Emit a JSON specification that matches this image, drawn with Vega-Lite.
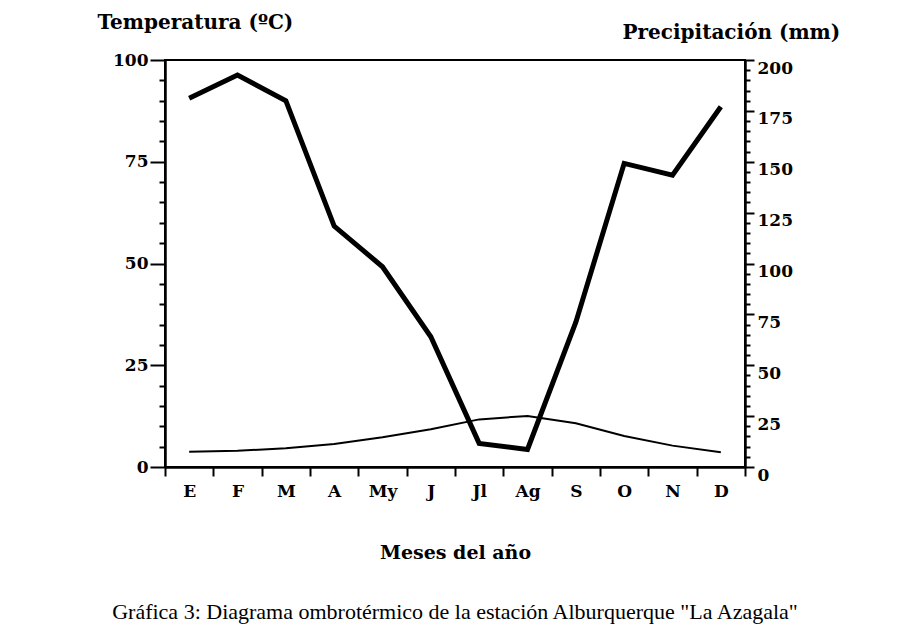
{
  "$schema": "https://vega.github.io/schema/vega-lite/v6.json",
  "width": 580,
  "height": 407,
  "autosize": {"type": "none"},
  "padding": {"left": 165, "top": 60, "right": 155, "bottom": 165},
  "background": "white",
  "config": {
    "view": {"stroke": "black", "strokeWidth": 2},
    "font": "DejaVu Serif",
    "axis": {"labelColor": "black", "titleColor": "black", "domainColor": "black", "tickColor": "black", "grid": false}
  },
  "title": {
    "text": "Gráfica 3: Diagrama ombrotérmico de la estación Alburquerque \"La Azagala\"",
    "orient": "bottom",
    "anchor": "middle",
    "font": "Liberation Serif",
    "fontSize": 22,
    "fontWeight": "normal",
    "color": "black",
    "offset": 40
  },
  "data": {
    "values": [
      {"mes": "E", "precipitacion": 90.6, "temperatura": 7.5},
      {"mes": "F", "precipitacion": 96.3, "temperatura": 8.0},
      {"mes": "M", "precipitacion": 90.0, "temperatura": 9.2},
      {"mes": "A", "precipitacion": 59.2, "temperatura": 11.3},
      {"mes": "My", "precipitacion": 49.2, "temperatura": 14.6},
      {"mes": "J", "precipitacion": 32.0, "temperatura": 18.5},
      {"mes": "Jl", "precipitacion": 5.8, "temperatura": 23.4},
      {"mes": "Ag", "precipitacion": 4.3, "temperatura": 25.1},
      {"mes": "S", "precipitacion": 35.6, "temperatura": 21.5},
      {"mes": "O", "precipitacion": 74.6, "temperatura": 15.2},
      {"mes": "N", "precipitacion": 71.7, "temperatura": 10.5},
      {"mes": "D", "precipitacion": 88.5, "temperatura": 7.2}
    ]
  },
  "encoding": {
    "x": {
      "field": "mes",
      "type": "ordinal",
      "sort": ["E", "F", "M", "A", "My", "J", "Jl", "Ag", "S", "O", "N", "D"],
      "scale": {"type": "band", "paddingInner": 0, "paddingOuter": 0},
      "axis": {
        "title": "Meses del año",
        "titleFontWeight": "bold",
        "titleFontSize": 19,
        "titlePadding": 44,
        "labelAngle": 0,
        "labelFontWeight": "bold",
        "labelFontSize": 17,
        "labelPadding": 7,
        "tickSize": 9,
        "tickWidth": 2,
        "domainWidth": 2.5,
        "tickBand": "extent"
      }
    }
  },
  "layer": [
    {
      "mark": {"type": "line", "color": "black", "strokeWidth": 5},
      "encoding": {
        "y": {
          "field": "precipitacion",
          "type": "quantitative",
          "scale": {"domain": [0, 100], "nice": false},
          "axis": {
            "orient": "left",
            "values": [0, 5, 10, 15, 20, 25, 30, 35, 40, 45, 50, 55, 60, 65, 70, 75, 80, 85, 90, 95, 100],
            "tickSize": {"expr": "datum.value % 25 === 0 ? 15 : 6"},
            "tickWidth": 2,
            "domainWidth": 2.5,
            "labelExpr": "datum.value % 25 === 0 ? datum.label : ''",
            "labelOverlap": false,
            "labelPadding": 2,
            "labelFontSize": 17,
            "labelFontWeight": "bold",
            "title": "Temperatura (ºC)",
            "titleAngle": 0,
            "titleAlign": "left",
            "titleBaseline": "middle",
            "titleX": -68,
            "titleY": -38,
            "titleFontSize": 20,
            "titleFontWeight": "bold"
          }
        }
      }
    },
    {
      "mark": {"type": "line", "color": "black", "strokeWidth": 2},
      "encoding": {
        "y": {
          "field": "temperatura",
          "type": "quantitative",
          "scale": {"domain": [0, 200], "nice": false},
          "axis": {
            "orient": "right",
            "values": [0, 5, 10, 15, 20, 25, 30, 35, 40, 45, 50, 55, 60, 65, 70, 75, 80, 85, 90, 95, 100, 105, 110, 115, 120, 125, 130, 135, 140, 145, 150, 155, 160, 165, 170, 175, 180, 185, 190, 195, 200],
            "tickSize": {"expr": "datum.value % 25 === 0 ? 9 : 5"},
            "tickWidth": 2,
            "domainWidth": 2.5,
            "labelExpr": "datum.value % 25 === 0 ? datum.label : ''",
            "labelOverlap": false,
            "labelPadding": 3,
            "labelBaseline": "top",
            "labelFontSize": 17,
            "labelFontWeight": "bold",
            "title": "Precipitación (mm)",
            "titleAngle": 0,
            "titleAlign": "left",
            "titleBaseline": "middle",
            "titleX": -123,
            "titleY": -28,
            "titleFontSize": 20,
            "titleFontWeight": "bold"
          }
        }
      }
    }
  ],
  "resolve": {"scale": {"y": "independent"}}
}
